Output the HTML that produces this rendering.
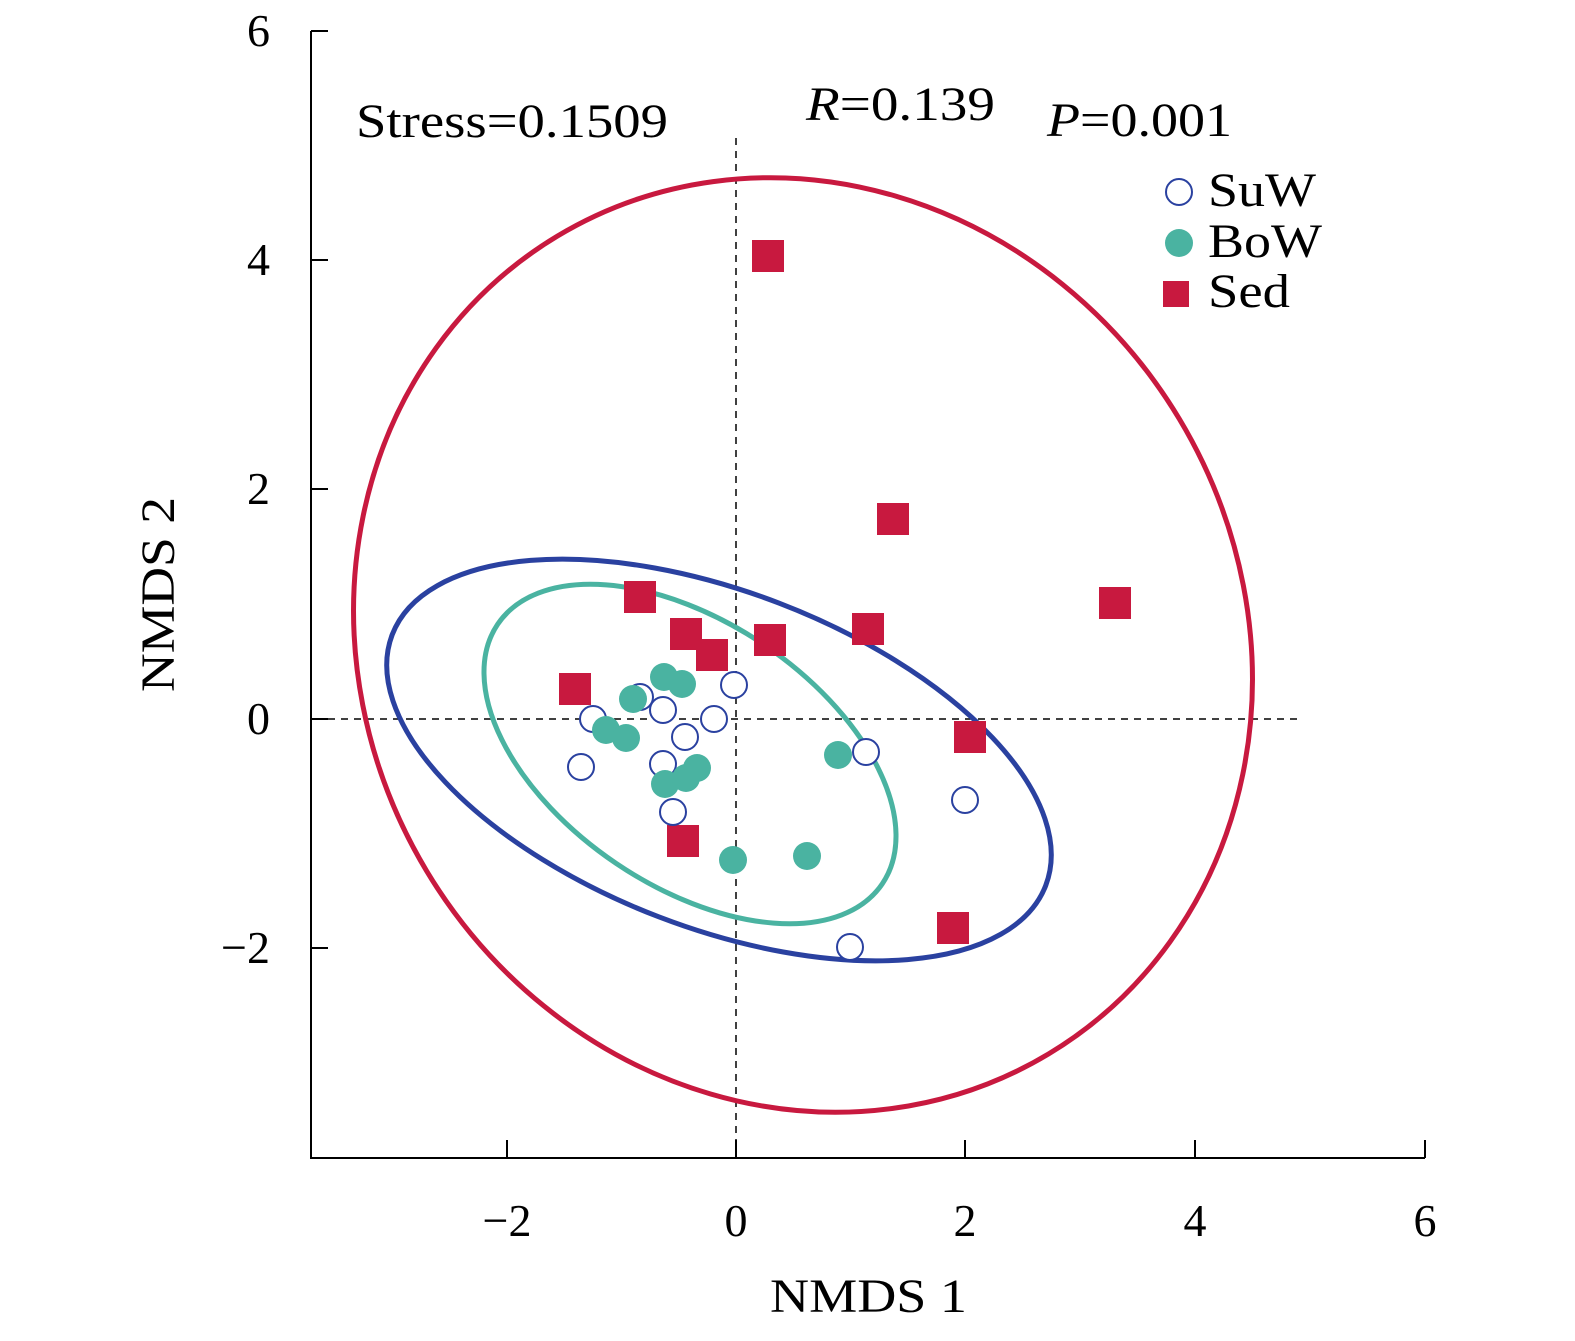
<!DOCTYPE html>
<html><head><style>body{margin:0;background:#fff}</style></head><body>
<svg width="1575" height="1336" xmlns="http://www.w3.org/2000/svg" font-family="Liberation Serif, serif">
<g stroke="#000" stroke-width="2" fill="none">
<path d="M311,31V1158H1425"/>
<path d="M311,31H328M311,260H328M311,489H328M311,719H328M311,948H328"/>
<path d="M507,1158V1140M736,1158V1140M965,1158V1140M1195,1158V1140M1425,1158V1140"/>
</g>
<g stroke="#000" stroke-width="1.5" stroke-dasharray="7,6">
<path d="M736,138V1150M315,719H1297"/>
</g>
<g font-size="46" text-anchor="end">
<text x="270" y="46">6</text><text x="270" y="275">4</text><text x="270" y="504">2</text><text x="270" y="734">0</text><text x="270" y="963">−2</text>
</g>
<g font-size="46" text-anchor="middle">
<text x="507" y="1236">−2</text><text x="736" y="1236">0</text><text x="965" y="1236">2</text><text x="1195" y="1236">4</text><text x="1425" y="1236">6</text>
</g>
<g font-size="48">
<text x="770" y="1312" textLength="197" lengthAdjust="spacingAndGlyphs">NMDS 1</text>
<text transform="translate(174,692) rotate(-90)" textLength="195" lengthAdjust="spacingAndGlyphs">NMDS 2</text>
<text x="356" y="137" textLength="312" lengthAdjust="spacingAndGlyphs">Stress=0.1509</text>
<text x="806" y="120" textLength="189" lengthAdjust="spacingAndGlyphs"><tspan font-style="italic">R</tspan>=0.139</text>
<text x="1047" y="136" textLength="185" lengthAdjust="spacingAndGlyphs"><tspan font-style="italic">P</tspan>=0.001</text>
<text x="1208" y="206" textLength="108" lengthAdjust="spacingAndGlyphs">SuW</text>
<text x="1208" y="257" textLength="114" lengthAdjust="spacingAndGlyphs">BoW</text>
<text x="1208" y="307" textLength="82" lengthAdjust="spacingAndGlyphs">Sed</text>
</g>
<g fill="none" stroke-width="5">
<ellipse cx="803" cy="645" rx="477" ry="439" transform="rotate(59 803 645)" stroke="#c8193f"/>
<ellipse cx="719" cy="760" rx="350" ry="168" transform="rotate(21 719 760)" stroke="#2a41a0"/>
<ellipse cx="690" cy="754" rx="232" ry="132" transform="rotate(34 690 754)" stroke="#4ab3a1"/>
</g>
<g fill="#c8193f">
<rect x="1163" y="281" width="26" height="26"/>
<rect x="752" y="240" width="32" height="32"/><rect x="877" y="503" width="32" height="32"/><rect x="1099" y="587" width="32" height="32"/><rect x="624" y="581" width="32" height="32"/><rect x="670" y="618" width="32" height="32"/><rect x="754" y="624" width="32" height="32"/><rect x="852" y="613" width="32" height="32"/><rect x="696" y="639" width="32" height="32"/><rect x="559" y="673" width="32" height="32"/><rect x="954" y="721" width="32" height="32"/><rect x="667" y="825" width="32" height="32"/><rect x="937" y="912" width="32" height="32"/>
</g>
<g fill="#fff" stroke="#2a41a0" stroke-width="2">
<circle cx="1179" cy="192" r="13"/>
<circle cx="734" cy="685" r="13"/><circle cx="640" cy="697" r="13"/><circle cx="663" cy="710" r="13"/><circle cx="593" cy="719" r="13"/><circle cx="714" cy="719" r="13"/><circle cx="685" cy="737" r="13"/><circle cx="581" cy="767" r="13"/><circle cx="663" cy="764" r="13"/><circle cx="866" cy="752" r="13"/><circle cx="965" cy="800" r="13"/><circle cx="673" cy="812" r="13"/><circle cx="850" cy="947" r="13"/>
</g>
<g fill="#4ab3a1">
<circle cx="1179" cy="243" r="14"/>
<circle cx="664" cy="677" r="14"/><circle cx="682" cy="684" r="14"/><circle cx="633" cy="699" r="14"/><circle cx="606" cy="730" r="14"/><circle cx="626" cy="738" r="14"/><circle cx="697" cy="768" r="14"/><circle cx="665" cy="784" r="14"/><circle cx="686" cy="778" r="14"/><circle cx="838" cy="755" r="14"/><circle cx="733" cy="860" r="14"/><circle cx="807" cy="856" r="14"/>
</g>
</svg>
</body></html>
